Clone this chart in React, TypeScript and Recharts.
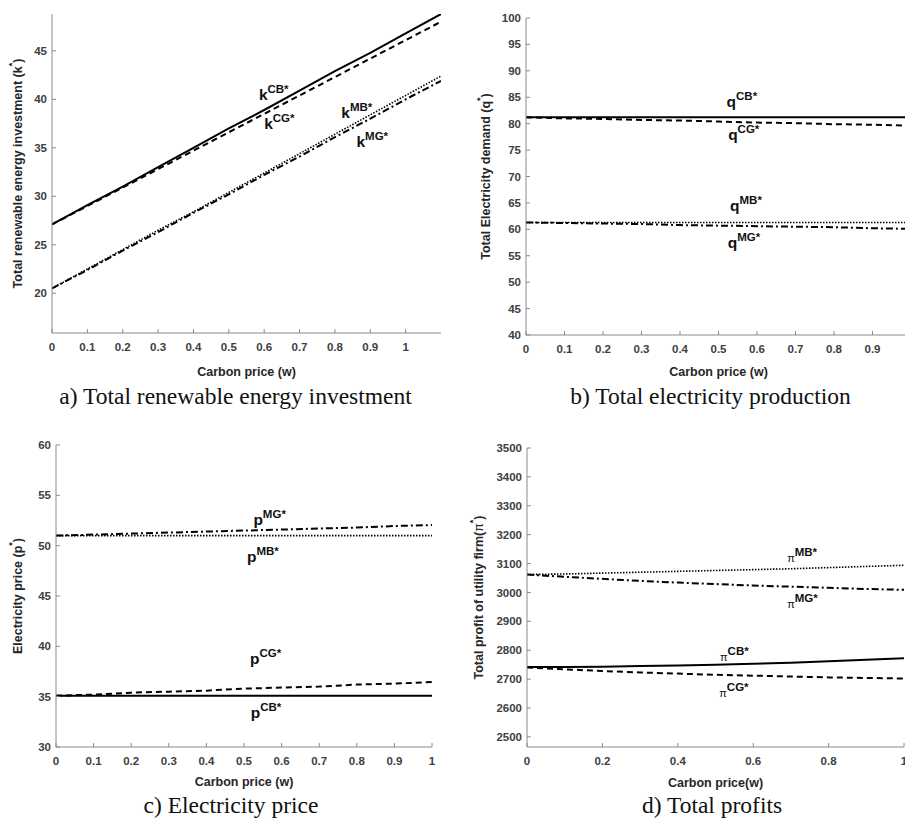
import React from "react";
import { LineChart, Line, XAxis, YAxis, ReferenceDot } from "recharts";

// carbon price grid
const wLong = [0, 0.1, 0.2, 0.3, 0.4, 0.5, 0.6, 0.7, 0.8, 0.9, 1, 1.1];
const w = [0, 0.1, 0.2, 0.3, 0.4, 0.5, 0.6, 0.7, 0.8, 0.9, 1];

// a) total renewable energy investment k*
const kCB = [27.1, 29.1, 31.0, 33.0, 35.0, 37.0, 38.9, 40.9, 42.9, 44.8, 46.8, 48.8];
const kCG = [27.1, 29.0, 30.9, 32.8, 34.7, 36.6, 38.5, 40.4, 42.3, 44.2, 46.1, 48.0];
const kMB = [20.5, 22.5, 24.5, 26.5, 28.4, 30.4, 32.4, 34.4, 36.4, 38.4, 40.4, 42.4];
const kMG = [20.5, 22.4, 24.4, 26.3, 28.3, 30.2, 32.2, 34.1, 36.1, 38.0, 40.0, 41.9];

// b) total electricity demand q*
const qCB = [81.2, 81.2, 81.2, 81.2, 81.2, 81.2, 81.2, 81.2, 81.2, 81.2, 81.2];
const qCG = [81.2, 81.0, 80.9, 80.7, 80.6, 80.4, 80.2, 80.1, 79.9, 79.8, 79.6];
const qMB = [61.3, 61.3, 61.3, 61.3, 61.3, 61.3, 61.3, 61.3, 61.3, 61.3, 61.3];
const qMG = [61.3, 61.2, 61.1, 61.0, 60.8, 60.7, 60.6, 60.5, 60.4, 60.2, 60.1];

// c) electricity price p*
const pCB = [35.1, 35.1, 35.1, 35.1, 35.1, 35.1, 35.1, 35.1, 35.1, 35.1, 35.1];
const pCG = [35.1, 35.2, 35.4, 35.5, 35.6, 35.8, 35.9, 36.0, 36.2, 36.3, 36.45];
const pMB = [51.0, 51.0, 51.0, 51.0, 51.0, 51.0, 51.0, 51.0, 51.0, 51.0, 51.0];
const pMG = [51.0, 51.1, 51.2, 51.3, 51.4, 51.5, 51.6, 51.7, 51.8, 51.95, 52.05];

// d) total profit of utility firm pi*
const piCB = [2742, 2742, 2743, 2745, 2747, 2750, 2753, 2757, 2762, 2767, 2772];
const piCG = [2740, 2734, 2728, 2723, 2719, 2715, 2712, 2709, 2706, 2704, 2702];
const piMB = [3062, 3064, 3067, 3070, 3073, 3076, 3079, 3082, 3086, 3090, 3094];
const piMG = [3062, 3054, 3047, 3040, 3034, 3029, 3024, 3020, 3016, 3012, 3009];

// ticks
const wTicks = [0, 0.1, 0.2, 0.3, 0.4, 0.5, 0.6, 0.7, 0.8, 0.9, 1];
const wTicksB = [0, 0.1, 0.2, 0.3, 0.4, 0.5, 0.6, 0.7, 0.8, 0.9];
const wTicksD = [0, 0.2, 0.4, 0.6, 0.8, 1];
const kTicks = [20, 25, 30, 35, 40, 45];
const qTicks = [40, 45, 50, 55, 60, 65, 70, 75, 80, 85, 90, 95, 100];
const pTicks = [30, 35, 40, 45, 50, 55, 60];
const piTicks = [2500, 2600, 2700, 2800, 2900, 3000, 3100, 3200, 3300, 3400, 3500];

const build = (xs: number[], cb: number[], cg: number[], mb: number[], mg: number[]) =>
  xs.map((x, i) => ({ w: x, cb: cb[i], cg: cg[i], mb: mb[i], mg: mg[i] }));

const SANS = "'Liberation Sans', Arial, sans-serif";
const AXIS = "#8a8a8a";
const tickStyle = { fontSize: 11.5, fontWeight: 700, fill: "#404040", fontFamily: SANS };

const lineStyles: Record<string, { strokeWidth: number; strokeDasharray?: string }> = {
  cb: { strokeWidth: 2 },
  cg: { strokeWidth: 2, strokeDasharray: "6 4" },
  mb: { strokeWidth: 1.6, strokeDasharray: "1.5 1.5" },
  mg: { strokeWidth: 2, strokeDasharray: "7 3 2 3" },
};

type Note = { x: number; y: number; base: string; sup: string };

const noteShape = (n: Note) => (p: any) => {
  const isPi = n.base === "π";
  return (
    <text x={p.cx} y={p.cy} fontFamily={SANS} fontWeight={700} fill="#111">
      <tspan fontSize={isPi ? 11 : 15.5} fontWeight={isPi ? 400 : 700}>{n.base}</tspan>
      <tspan fontSize={11.5} dy={isPi ? -6 : -7}>{n.sup}</tspan>
    </text>
  );
};

type PanelProps = {
  left: number; top: number; width: number; height: number;
  margin: { top: number; right: number; left: number; bottom: number };
  yWidth: number;
  rows: any[];
  xDomain: [number, number]; xTicks: number[];
  yDomain: [number, number]; yTicks: number[];
  xTitle: string; xTitleDy: number;
  yTitle: string; yLetter: string; yTitleX: number;
  notes: Note[];
};

function Panel(props: PanelProps) {
  const { left, top, width, height, margin, yWidth, rows, xDomain, xTicks, yDomain, yTicks } = props;

  const xLabel = (lp: any) => {
    const vb = lp.viewBox;
    return (
      <text x={vb.x + vb.width / 2} y={vb.y + props.xTitleDy} textAnchor="middle"
        fontFamily={SANS} fontWeight={700} fontSize={12.5} fill="#262626">
        {props.xTitle}
      </text>
    );
  };

  const yLabel = (lp: any) => {
    const vb = lp.viewBox;
    const cx = vb.x + props.yTitleX;
    const cy = vb.y + vb.height / 2;
    return (
      <text x={cx} y={cy} transform={`rotate(-90, ${cx}, ${cy})`} textAnchor="middle"
        dominantBaseline="central" fontFamily={SANS} fontWeight={700} fontSize={12.5} fill="#262626">
        {props.yTitle}
        <tspan fontWeight={props.yLetter === "π" ? 400 : 700}>{props.yLetter}</tspan>
        <tspan dy={-6} fontSize={9}>*</tspan>
        <tspan dy={6}>)</tspan>
      </text>
    );
  };

  return (
    <div style={{ position: "absolute", left, top }}>
      <LineChart width={width} height={height} data={rows} margin={margin}>
        <XAxis dataKey="w" type="number" domain={xDomain} ticks={xTicks} interval={0}
          allowDataOverflow height={45} tickSize={-4} tickMargin={14} stroke={AXIS}
          tick={tickStyle} label={{ content: xLabel }} />
        <XAxis xAxisId="top" orientation="top" type="number" domain={xDomain} ticks={xTicks}
          interval={0} allowDataOverflow height={0} tickSize={-4} tick={false} stroke={AXIS} />
        <YAxis type="number" domain={yDomain} ticks={yTicks} interval={0} allowDataOverflow
          width={yWidth} tickSize={-4} tickMargin={9} stroke={AXIS} tick={tickStyle}
          label={{ content: yLabel }} />
        <YAxis yAxisId="right" orientation="right" type="number" domain={yDomain} ticks={yTicks}
          interval={0} allowDataOverflow width={0} tickSize={-4} tick={false} stroke={AXIS} />
        {["cb", "cg", "mb", "mg"].map((k) => (
          <Line key={k} dataKey={k} type="linear" stroke="#000" dot={false}
            isAnimationActive={false} {...lineStyles[k]} />
        ))}
        {props.notes.map((n, i) => (
          <ReferenceDot key={i} x={n.x} y={n.y} r={0} fill="none" stroke="none" shape={noteShape(n)} />
        ))}
      </LineChart>
    </div>
  );
}

export default function App() {
  return (
    <div style={{ position: "absolute", left: 0, top: 0, width: 905, height: 818, overflow: "hidden", background: "#fff" }}>
      <Panel
        left={0} top={0} width={450} height={400}
        margin={{ top: 14, right: 9, left: 0, bottom: 22 }} yWidth={52}
        rows={build(wLong, kCB, kCG, kMB, kMG)}
        xDomain={[0, 1.1]} xTicks={wTicks} yDomain={[15.9, 48.8]} yTicks={kTicks}
        xTitle="Carbon price (w)" xTitleDy={43}
        yTitle="Total renewable energy investment (" yLetter="k" yTitleX={18}
        notes={[
          { x: 0.585, y: 39.9, base: "k", sup: "CB*" },
          { x: 0.6, y: 36.9, base: "k", sup: "CG*" },
          { x: 0.818, y: 38.1, base: "k", sup: "MB*" },
          { x: 0.861, y: 35.1, base: "k", sup: "MG*" },
        ]}
      />
      <Panel
        left={450} top={0} width={470} height={400}
        margin={{ top: 18, right: 9, left: 0, bottom: 20 }} yWidth={76}
        rows={build(w, qCB, qCG, qMB, qMG)}
        xDomain={[0, 1]} xTicks={wTicksB} yDomain={[40, 100]} yTicks={qTicks}
        xTitle="Carbon price (w)" xTitleDy={41}
        yTitle="Total Electricity demand (" yLetter="q" yTitleX={36}
        notes={[
          { x: 0.521, y: 83.1, base: "q", sup: "CB*" },
          { x: 0.525, y: 76.9, base: "q", sup: "CG*" },
          { x: 0.53, y: 63.4, base: "q", sup: "MB*" },
          { x: 0.524, y: 56.4, base: "q", sup: "MG*" },
        ]}
      />
      <Panel
        left={0} top={410} width={450} height={408}
        margin={{ top: 35, right: 18, left: 0, bottom: 26 }} yWidth={56}
        rows={build(w, pCB, pCG, pMB, pMG)}
        xDomain={[0, 1]} xTicks={wTicks} yDomain={[30, 60]} yTicks={pTicks}
        xTitle="Carbon price (w)" xTitleDy={39}
        yTitle="Electricity price (" yLetter="p" yTitleX={18}
        notes={[
          { x: 0.525, y: 52.1, base: "p", sup: "MG*" },
          { x: 0.508, y: 48.4, base: "p", sup: "MB*" },
          { x: 0.516, y: 38.2, base: "p", sup: "CG*" },
          { x: 0.518, y: 32.9, base: "p", sup: "CB*" },
        ]}
      />
      <Panel
        left={450} top={410} width={460} height={408}
        margin={{ top: 38, right: 6, left: 0, bottom: 26 }} yWidth={77}
        rows={build(w, piCB, piCG, piMB, piMG)}
        xDomain={[0, 1]} xTicks={wTicksD} yDomain={[2465, 3500]} yTicks={piTicks}
        xTitle="Carbon price(w)" xTitleDy={39.5}
        yTitle="Total profit of utility firm(" yLetter="π" yTitleX={29}
        notes={[
          { x: 0.69, y: 3105, base: "π", sup: "MB*" },
          { x: 0.69, y: 2947, base: "π", sup: "MG*" },
          { x: 0.512, y: 2763, base: "π", sup: "CB*" },
          { x: 0.51, y: 2639, base: "π", sup: "CG*" },
        ]}
      />
      <svg width={905} height={818} style={{ position: "absolute", left: 0, top: 0, pointerEvents: "none" }}>
        <g fontFamily="'Liberation Serif', 'Times New Roman', serif" fontSize={23.5} fill="#111" textAnchor="middle">
          <text x={235.5} y={404}>a) Total renewable energy investment</text>
          <text x={710.5} y={404}>b) Total electricity production</text>
          <text x={231} y={813}>c) Electricity price</text>
          <text x={712} y={813}>d) Total profits</text>
        </g>
      </svg>
    </div>
  );
}
